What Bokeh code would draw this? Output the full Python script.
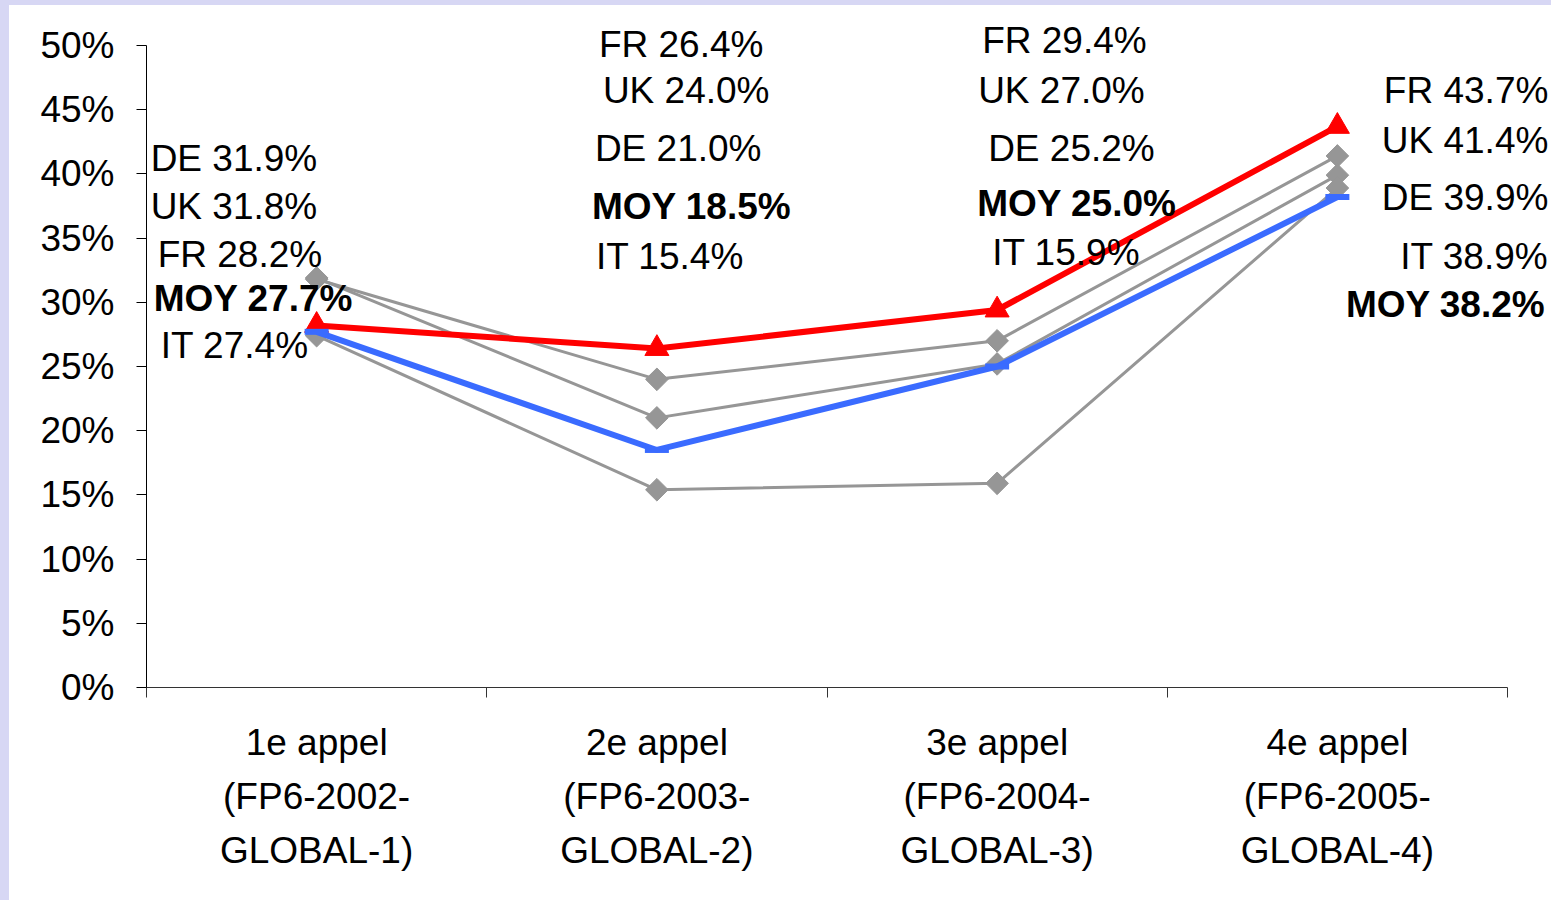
import math
from bokeh.plotting import figure
from bokeh.models import (Range1d, LinearAxis, FixedTicker, ColumnDataSource)
from bokeh.core.properties import value
from bokeh.embed import file_html
from bokeh.resources import INLINE

# ---------------- data ----------------
categories = ["1e appel\n(FP6-2002-\nGLOBAL-1)",
              "2e appel\n(FP6-2003-\nGLOBAL-2)",
              "3e appel\n(FP6-2004-\nGLOBAL-3)",
              "4e appel\n(FP6-2005-\nGLOBAL-4)"]
fr = [28.2, 26.4, 29.4, 43.7]
uk = [31.8, 24.0, 27.0, 41.4]
de = [31.9, 21.0, 25.2, 39.9]
it = [27.4, 15.4, 15.9, 38.9]
moy = [27.7, 18.5, 25.0, 38.2]
y_ticks = [0, 5, 10, 15, 20, 25, 30, 35, 40, 45, 50]
y_tick_labels = ["0%", "5%", "10%", "15%", "20%", "25%", "30%", "35%", "40%", "45%", "50%"]

series = {"FR": fr, "UK": uk, "DE": de, "IT": it, "MOY": moy}

# ---------------- label layout (positions only) ----------------
label_order = [["DE", "UK", "FR", "MOY", "IT"],
               ["FR", "UK", "DE", "MOY", "IT"],
               ["FR", "UK", "DE", "MOY", "IT"],
               ["FR", "UK", "DE", "IT", "MOY"]]
label_y = [[41.2, 37.5, 33.7, 30.3, 26.6],
           [50.1, 46.5, 42.0, 37.5, 33.6],
           [50.4, 46.5, 42.0, 37.7, 33.9],
           [46.5, 42.6, 38.2, 33.6, 29.8]]
label_dx = [[-166, -166, -159, -163, -156],
            [-58, -54, -62, -65, -61],
            [-15, -19, -9, -20, -5],
            [211, 211, 211, 211, 208]]
label_align = ["left", "left", "left", "right"]

FONT = "Liberation Sans"
FS = "37px"
GRAY = "#969696"
RED = "#FF0000"
BLUE = "#3A6BFF"
LAVENDER = "#D7D7F4"

x = [1, 2, 3, 4]

W, H = 1551, 900
LEFT, BOTTOM = 137, 218
PX_PER_CAT = 340.25
PX_PER_PCT = 12.84

p = figure(width=W, height=H, output_backend="svg", toolbar_location=None,
           x_range=Range1d(0.5, 0.5 + (W - LEFT) / PX_PER_CAT),
           y_range=Range1d(0, (H - BOTTOM) / PX_PER_PCT),
           x_axis_location=None, y_axis_location=None,
           min_border=0, min_border_left=LEFT, min_border_bottom=BOTTOM,
           min_border_top=0, min_border_right=0)
p.styles = {"border-left": f"9px solid {LAVENDER}", "border-top": f"5px solid {LAVENDER}"}
p.grid.visible = False
p.outline_line_color = None
p.background_fill_color = "white"
p.border_fill_color = "white"

# y axis
yax = LinearAxis(ticker=FixedTicker(ticks=y_ticks), bounds=(0, 50),
                 major_label_overrides={t: l for t, l in zip(y_ticks, y_tick_labels)},
                 major_tick_out=10, major_tick_in=0, minor_tick_out=0, minor_tick_in=0,
                 axis_line_color="black", major_tick_line_color="black",
                 major_label_standoff=22, major_label_text_font_size=FS,
                 major_label_text_font=FONT, major_label_text_color="black")
p.add_layout(yax, "left")

# x axis: boundary ticks (no labels)
xax = LinearAxis(ticker=FixedTicker(ticks=[0.5, 1.5, 2.5, 3.5, 4.5]), bounds=(0.5, 4.5),
                 major_tick_out=10, major_tick_in=0, minor_tick_out=0, minor_tick_in=0,
                 axis_line_color="#333333", major_tick_line_color="#333333",
                 major_label_text_font_size="1px", major_label_text_color=None,
                 major_label_standoff=0)
p.add_layout(xax, "below")

# x axis: category labels
xlab = LinearAxis(ticker=FixedTicker(ticks=x),
                  major_label_overrides={i + 1: c for i, c in enumerate(categories)},
                  axis_line_color=None, major_tick_line_color=None,
                  major_tick_out=0, major_tick_in=0, minor_tick_out=0, minor_tick_in=0,
                  major_label_standoff=24, major_label_text_font_size=FS,
                  major_label_text_font=FONT, major_label_text_color="black",
                  major_label_text_line_height=1.32)
p.add_layout(xlab, "below")

# gray series
for name in ["UK", "DE", "IT"]:
    p.line(x, series[name], line_color=GRAY, line_width=3)
for name in ["UK", "DE", "IT"]:
    p.scatter(x, series[name], marker="square", angle=math.pi / 4, size=16,
              fill_color=GRAY, line_color=GRAY)

# FR red
p.line(x, fr, line_color=RED, line_width=6)
p.scatter(x, fr, marker="triangle", size=24, fill_color=RED, line_color=RED)

# MOY blue
p.line(x, moy, line_color=BLUE, line_width=6)
p.scatter(x, moy, marker="dash", size=24, line_color=BLUE, line_width=6)

# labels
for ci in range(4):
    src = dict(x=[], y=[], t=[], dx=[], st=[])
    for name, ly, dx in zip(label_order[ci], label_y[ci], label_dx[ci]):
        src["x"].append(x[ci])
        src["y"].append(ly)
        src["t"].append(f"{name} {series[name][ci]:.1f}%")
        src["dx"].append(dx)
        src["st"].append("bold" if name == "MOY" else "normal")
    p.text(x="x", y="y", text="t", x_offset="dx", text_font_style="st",
           source=ColumnDataSource(src), text_font=value(FONT), text_font_size=FS,
           text_align=label_align[ci], text_baseline="middle", text_color="black")

open("out.html", "w").write(file_html(p, INLINE))
